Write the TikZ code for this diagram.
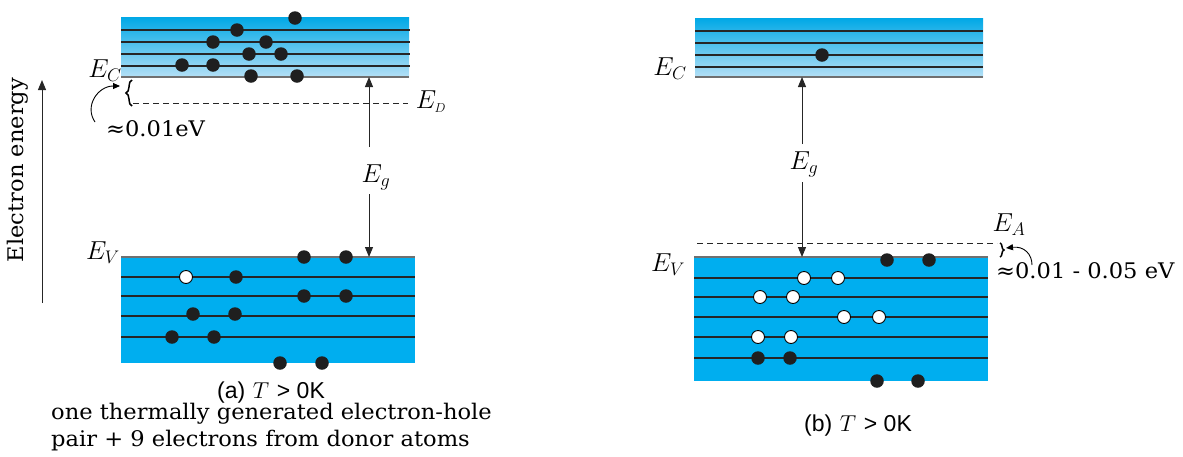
\RequirePackage{fix-cm}
\documentclass[tikz,border=0pt]{standalone}
\usepackage{fontspec}
\setmainfont{DejaVu Serif}[FakeStretch=1.05]
\newfontfamily\capfont{Liberation Sans}
\usetikzlibrary{arrows.meta,decorations.pathreplacing}
\definecolor{bandcyan}{HTML}{00AEEF}
\definecolor{bandtop}{HTML}{00A8E6}
\definecolor{bandlow}{HTML}{B4E0F6}
\definecolor{edgegray}{HTML}{707070}
\tikzset{
  level/.style={line width=1.3pt, black!85},
  edgeline/.style={line width=1.3pt, edgegray},
  elec/.style={circle, fill=black!88, inner sep=0pt, minimum size=13.5pt},
  hole/.style={circle, fill=white, draw=black, line width=0.9pt, inner sep=0pt, minimum size=13pt},
  gaparrow/.style={line width=1pt, black!85, -{Triangle[length=10pt,width=8pt]}},
  mlabel/.style={font=\fontsize{26}{31}\selectfont, inner sep=0pt},
  tlabel/.style={font=\fontsize{21.5}{26}\selectfont, inner sep=0pt},
  caplabel/.style={font=\fontsize{23}{28}\selectfont, inner sep=0pt},
  donor/.style={line width=1pt, dashed, dash pattern=on 6pt off 4pt, black!85},
  tinyarrow/.style={line width=0.9pt, -{Triangle[length=7pt,width=6pt]}},
  bracestyle/.style={line width=1.5pt, decorate},
}
\begin{document}
\begin{tikzpicture}[x=1pt,y=-1pt]
\useasboundingbox (0,0) rectangle (1183,456);

% ---------- Electron energy axis ----------
\coordinate (axbot) at (42,303);
\coordinate (axtop) at (42,80);
\draw[gaparrow] (axbot) -- (axtop);
\node[tlabel, rotate=90] (axlab) at (18,170) {Electron energy};

% ================= Panel (a) =================
% conduction band
\shade[top color=bandtop, bottom color=bandlow] (121,17) rectangle (409,77);
\foreach \y in {30,42,54,66} \draw[level] (121,\y) -- (410,\y);
\draw[edgeline] (121,77) -- (409,77);
% valence band
\fill[bandcyan] (121,257) rectangle (415,363);
\draw[edgeline] (121,257) -- (415,257);
\foreach \y in {277,296,316,337} \draw[level] (121,\y) -- (415,\y);

% donor level
\draw[donor] (133,103) -- (408,103);
\node[mlabel] (ED) at (431,102) {$E_{\scriptscriptstyle D}$};

% electrons in CB
\foreach \x/\y [count=\i] in {295/18,237/30,213/42,266/42,249/54,281/54,182/65,213/65,251/76,297/76}
  \node[elec] (ca\i) at (\x,\y) {};
% electrons in VB
\foreach \x/\y [count=\i] in {304/257,346/257,236/277,304/296,346/296,193/314,235/314,172/337,214/337,280/363,322/363}
  \node[elec] (va\i) at (\x,\y) {};
\node[hole] (ha1) at (186,277) {};

% labels
\node[mlabel] (ECa) at (105,71) {$E_C$};
\node[mlabel] (EVa) at (103,253) {$E_V$};
\node[mlabel] (Ega) at (376,177) {$E_g$};
\coordinate (cba) at (369,77);
\coordinate (vba) at (369,257);
\draw[gaparrow] (369,147) -- (cba);
\draw[gaparrow] (369,194) -- (vba);

% brace and 0.01 eV
\draw[bracestyle, decoration={brace, amplitude=6pt}] (132,106) -- (132,80);
\node[tlabel, anchor=west] (dEa) at (106,129) {≈0.01eV};
\coordinate (ta1) at (95,122);
\coordinate (ta2) at (120,86);
\draw[tinyarrow] (ta1) .. controls (84,106) and (98,86) .. (ta2);

\node[caplabel] (capa) at (271,393) {{\capfont (a)} $T$ {\capfont > 0K}};
\node[tlabel, anchor=west] (capa2) at (51,414) {one thermally generated electron-hole};
\node[tlabel, anchor=west] (capa3) at (51,441) {pair + 9 electrons from donor atoms};

% ================= Panel (b) =================
\shade[top color=bandtop, bottom color=bandlow] (695,18) rectangle (983,77);
\foreach \y in {31,43,55,67} \draw[level] (695,\y) -- (983,\y);
\draw[edgeline] (695,77) -- (983,77);
\node[elec] (cb1) at (822,55) {};

\fill[bandcyan] (694,257) rectangle (988,381);
\draw[edgeline] (694,257) -- (988,257);
\foreach \y in {278,297,317,337,358} \draw[level] (694,\y) -- (988,\y);

% acceptor level
\draw[donor] (697,243) -- (997,243);
\node[mlabel] (EA) at (1009,225) {$E_A$};

\foreach \x/\y [count=\i] in {887/260,929/260,758/358,790/358,877/381,918/381}
  \node[elec] (vb\i) at (\x,\y) {};
\foreach \x/\y [count=\i] in {804/278,838/278,760/297,793/297,844/317,879/317,758/337,791/337}
  \node[hole] (hb\i) at (\x,\y) {};

\node[mlabel] (ECb) at (670,69) {$E_C$};
\node[mlabel] (EVb) at (668,265) {$E_V$};
\node[mlabel] (Egb) at (804,164) {$E_g$};
\coordinate (cbb) at (802,77);
\coordinate (vbb) at (802,257);
\draw[gaparrow] (802,144) -- (cbb);
\draw[gaparrow] (802,182) -- (vbb);

\draw[bracestyle, decoration={brace, amplitude=4pt}] (1000,243) -- (1000,257);
\coordinate (tb1) at (1032,265);
\coordinate (tb2) at (1006,248);
\draw[tinyarrow] (tb1) .. controls (1032,254) and (1024,246) .. (tb2);
\node[tlabel, anchor=west] (dEb) at (996,271) {≈0.01 - 0.05 eV};

\node[caplabel] (capb) at (858,426) {{\capfont (b)} $T$ {\capfont > 0K}};
\end{tikzpicture}
\end{document}
